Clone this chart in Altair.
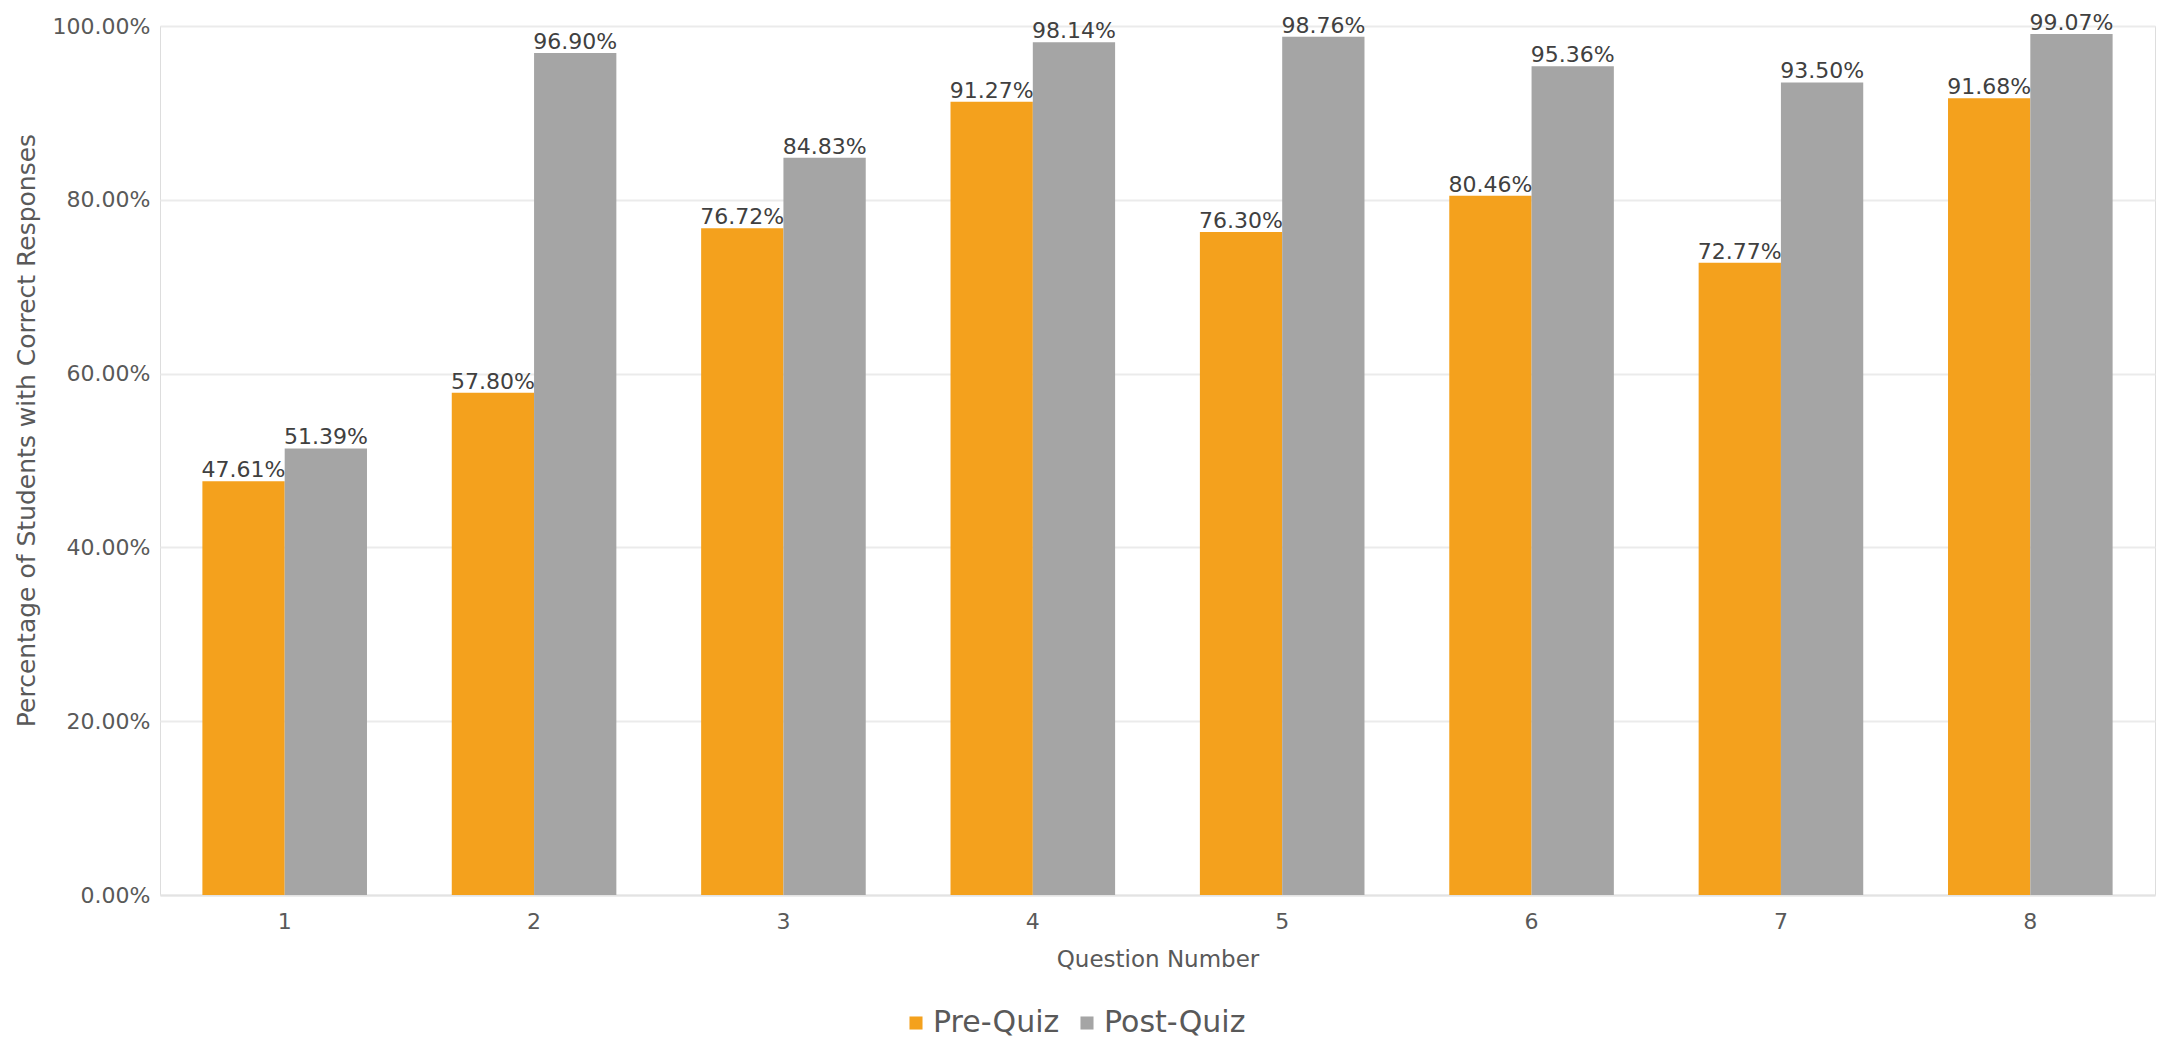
import altair as alt
import pandas as pd

questions = ["1", "2", "3", "4", "5", "6", "7", "8"]
series = ["Pre-Quiz", "Post-Quiz"]
pre_quiz = [47.61, 57.80, 76.72, 91.27, 76.30, 80.46, 72.77, 91.68]
post_quiz = [51.39, 96.90, 84.83, 98.14, 98.76, 95.36, 93.50, 99.07]
colors = ["#F4A11D", "#A5A5A5"]

rows = []
for q, a, b in zip(questions, pre_quiz, post_quiz):
    rows.append({"Question": q, "Quiz": series[0], "Value": a / 100.0})
    rows.append({"Question": q, "Quiz": series[1], "Value": b / 100.0})
df = pd.DataFrame(rows)

FONT = "DejaVu Sans"

x_enc = alt.X(
    "Question:N",
    sort=questions,
    scale=alt.Scale(paddingInner=0.34, paddingOuter=0.17),
    axis=alt.Axis(
        title="Question Number",
        labelAngle=0,
        ticks=False,
        domain=True,
        domainColor="#E3E3E3",
        domainWidth=2,
        labelPadding=16,
        labelFontSize=22,
        labelColor="#595959",
        titleFontSize=23,
        titleFontWeight="normal",
        titleColor="#595959",
        titlePadding=16,
        labelFont=FONT,
        titleFont=FONT,
    ),
)
xoff = alt.XOffset("Quiz:N", sort=series, scale=alt.Scale(paddingInner=0, paddingOuter=0))
y_enc = alt.Y(
    "Value:Q",
    scale=alt.Scale(domain=[0, 1], nice=False),
    axis=alt.Axis(
        title="Percentage of Students with Correct Responses",
        format=".2%",
        values=[0, 0.2, 0.4, 0.6, 0.8, 1.0],
        ticks=False,
        domain=False,
        grid=True,
        gridColor="#EBEBEB",
        gridWidth=2,
        labelPadding=10,
        labelFontSize=22,
        labelColor="#595959",
        titleFontSize=25,
        titleFontWeight="normal",
        titleColor="#595959",
        titleX=-134,
        titleY=404,
        titleAngle=-90,
        titleBaseline="middle",
        titleAlign="center",
        labelFont=FONT,
        titleFont=FONT,
    ),
)

bars = alt.Chart(df).mark_bar().encode(
    x=x_enc,
    xOffset=xoff,
    y=y_enc,
    color=alt.Color(
        "Quiz:N",
        sort=series,
        scale=alt.Scale(domain=series, range=colors),
        legend=alt.Legend(
            title=None,
            orient="none",
            direction="horizontal",
            legendX=741,
            legendY=982,
            symbolType="square",
            symbolSize=170,
            symbolStrokeWidth=0,
            labelFontSize=30,
            labelFont=FONT,
            labelColor="#595959",
            labelOffset=2,
            columnPadding=12,
        ),
    ),
)

labels = alt.Chart(df).mark_text(
    baseline="alphabetic", dy=-4, fontSize=22, font=FONT, color="#404040"
).encode(
    x=alt.X("Question:N", sort=questions),
    xOffset=alt.XOffset("Quiz:N", sort=series),
    y="Value:Q",
    text=alt.Text("Value:Q", format=".2%"),
)

chart = (
    alt.layer(bars, labels)
    .properties(
        width=1995,
        height=869,
        autosize=alt.AutoSizeParams(type="none"),
        padding={"left": 152, "top": 18, "right": 5, "bottom": 145},
    )
    .configure_view(stroke=None)
    .configure(background="white")
)

chart.save("out.html", embed_options={"renderer": "svg", "actions": False})
